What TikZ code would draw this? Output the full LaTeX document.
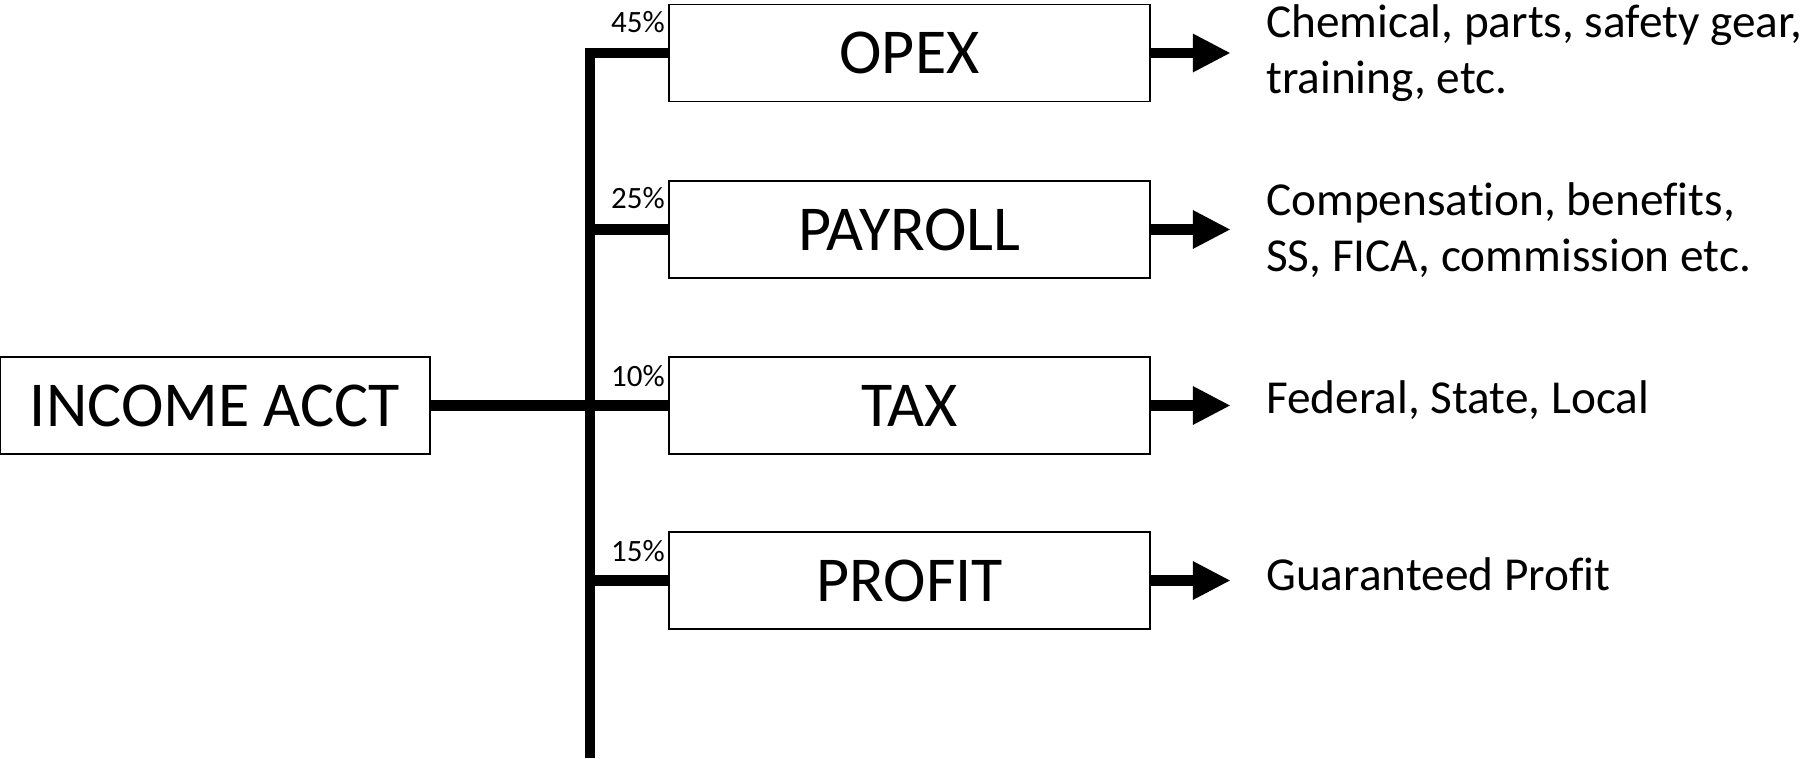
\documentclass[tikz,border=0pt]{standalone}
\usepackage{fontspec}
\setmainfont{Carlito}[Ligatures={NoCommon}]
\usetikzlibrary{arrows.meta}
\begin{document}
\begin{tikzpicture}[x=1pt,y=-1pt,
 box/.style={draw,line width=1.5pt,minimum width=481pt,minimum height=97pt,inner sep=0pt,font=\fontsize{64}{70}\selectfont},
 bar/.style={line width=10.5pt},
 arr/.style={line width=10.5pt,-{Triangle[length=38pt,width=36pt]}},
 pct/.style={anchor=east,inner sep=0pt,font=\fontsize{31}{33}\selectfont},
 desc/.style={anchor=west,inner sep=0pt,align=left,font=\fontsize{47.3}{56.5}\selectfont}]
\useasboundingbox (0,0) rectangle (1806,758);
\node[box,minimum width=430pt] (inc) at (215,405.5) {INCOME ACCT};
\node[box] (opex) at (909.5,53) {OPEX};
\node[box] (pay) at (909.5,229.5) {PAYROLL};
\node[box] (tax) at (909.5,405.5) {TAX};
\node[box] (prof) at (909.5,580.5) {PROFIT};
\coordinate (bot) at (590,758);
\coordinate (corner) at (590,53);
\draw[bar] (bot) -- (corner) -- (opex.west);
\draw[bar] (pay.west -| bot) -- (pay.west);
\draw[bar] (inc.east) -- (tax.west);
\draw[bar] (prof.west -| bot) -- (prof.west);
\path (opex.east) ++(80,0) coordinate (oa);
\path (pay.east) ++(80,0) coordinate (pa);
\path (tax.east) ++(80,0) coordinate (ta);
\path (prof.east) ++(80,0) coordinate (fa);
\draw[arr] (opex.east) -- (oa);
\draw[arr] (pay.east) -- (pa);
\draw[arr] (tax.east) -- (ta);
\draw[arr] (prof.east) -- (fa);
\node[pct] (p1) at (665,22) {45\%};
\node[pct] (p2) at (665,198) {25\%};
\node[pct] (p3) at (665,376) {10\%};
\node[pct] (p4) at (665,551) {15\%};
\node[desc] (d1) at (1266,53) {Chemical, parts, safety gear,\\training, etc.};
\node[desc] (d2) at (1266,230) {Compensation, benefits,\\SS, FICA, commission etc.};
\node[desc] (d3) at (1266,400) {Federal, State, Local};
\node[desc] (d4) at (1266,574.5) {Guaranteed Profit};
\end{tikzpicture}
\end{document}
